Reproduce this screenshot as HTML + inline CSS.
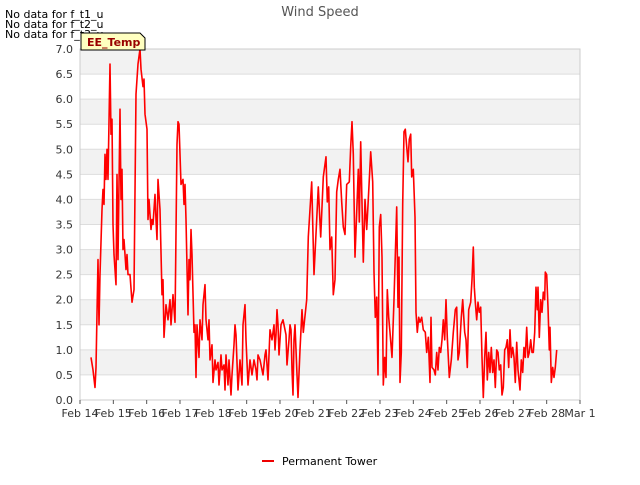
<!DOCTYPE html>
<html><head><meta charset="utf-8"><style>
body{margin:0;background:#fff;font-family:"Liberation Sans","DejaVu Sans",sans-serif;}
svg text{font-family:"DejaVu Sans","Liberation Sans",sans-serif;}
</style></head><body>
<svg id="chart" width="640" height="480" xmlns="http://www.w3.org/2000/svg">
<rect width="640" height="480" fill="#fff"/>
<g id="bands"></g><g id="grid"></g>
<rect x="80" y="49" width="500" height="351" fill="none" stroke="#ccc"/>
<g id="xaxis"></g>
<g id="yaxis"></g>
<g id="series"></g>
<text x="320" y="16" text-anchor="middle" font-size="13" fill="#555">Wind Speed</text>
<text x="5" y="18" font-size="11" fill="#000">No data for f_t1_u</text>
<text x="5" y="28" font-size="11" fill="#000">No data for f_t2_u</text>
<text x="5" y="38" font-size="11" fill="#000">No data for f_t3_u</text>
<g>
<path d="M81,33 H140 L145,38 V50 H81 Z" fill="#ffffc0" stroke="#000"/>
<text x="87" y="46" font-size="11" font-weight="bold" fill="#990000">EE_Temp</text>
</g>
<g>
<line x1="262" y1="461" x2="274" y2="461" stroke="#e00" stroke-width="2"/>
<text x="282" y="465" font-size="11" fill="#000">Permanent Tower</text>
</g>
</svg>
<script>
const xTickLabels=["Feb 14","Feb 15","Feb 16","Feb 17","Feb 18","Feb 19","Feb 20","Feb 21","Feb 22","Feb 23","Feb 24","Feb 25","Feb 26","Feb 27","Feb 28","Mar 1"];
const yTickLabels=["0.0","0.5","1.0","1.5","2.0","2.5","3.0","3.5","4.0","4.5","5.0","5.5","6.0","6.5","7.0"];
const days=[0.33,0.39,0.45,0.48,0.54,0.57,0.60,0.66,0.69,0.72,0.75,0.78,0.81,0.84,0.90,0.93,0.96,0.99,1.02,1.08,1.11,1.14,1.20,1.23,1.26,1.29,1.32,1.38,1.41,1.44,1.50,1.56,1.62,1.68,1.74,1.80,1.83,1.89,1.92,1.95,2.01,2.04,2.07,2.13,2.16,2.19,2.25,2.28,2.31,2.34,2.40,2.46,2.49,2.52,2.58,2.64,2.70,2.73,2.79,2.85,2.91,2.94,2.97,3.03,3.09,3.12,3.15,3.18,3.24,3.27,3.30,3.33,3.36,3.42,3.45,3.48,3.51,3.57,3.60,3.66,3.69,3.75,3.78,3.84,3.87,3.90,3.96,3.99,4.05,4.08,4.14,4.17,4.23,4.26,4.32,4.35,4.38,4.44,4.47,4.53,4.56,4.62,4.65,4.68,4.74,4.80,4.86,4.89,4.95,4.98,5.04,5.10,5.16,5.22,5.28,5.31,5.34,5.40,5.46,5.49,5.55,5.58,5.64,5.70,5.76,5.82,5.85,5.88,5.91,5.94,5.97,6.03,6.09,6.12,6.18,6.21,6.27,6.30,6.33,6.36,6.39,6.42,6.45,6.48,6.51,6.54,6.60,6.66,
6.70,6.80,6.85,6.95,7.02,7.10,7.15,7.22,7.30,7.38,7.42,7.46,7.50,7.55,7.60,7.65,7.70,7.75,7.80,7.85,7.90,7.95,8.00,8.08,8.12,8.16,8.20,8.25,8.30,8.35,8.38,8.42,8.45,8.50,8.55,8.60,8.65,8.72,8.78,8.82,8.86,8.90,8.94,8.98,9.02,9.06,9.10,9.14,9.18,9.22,9.26,9.30,9.36,9.42,9.50,9.54,9.57,9.60,9.64,9.68,9.72,9.76,9.80,9.84,9.88,9.92,9.95,10.00,10.05,10.08,10.12,10.16,10.20,10.25,10.30,10.36,10.40,10.45,10.50,10.53,10.56,10.62,10.66,10.70,10.74,10.78,10.82,10.86,10.90,10.94,10.98,11.02,11.08,11.14,11.20,11.26,11.30,11.34,11.38,11.44,11.48,11.54,11.58,11.62,11.66,11.72,11.76,11.80,11.83,11.86,11.90,11.94,11.98,12.02,12.06,12.10,12.14,12.18,12.22,12.26,12.30,12.34,12.38,12.42,12.46,12.50,12.54,12.58,12.62,12.66,12.70,12.74,12.78,12.82,12.86,12.90,12.94,12.98,13.02,13.06,13.10,13.14,13.20,13.24,13.28,13.32,13.36,13.40,13.44,13.48,13.52,13.56,13.60,13.64,13.68,13.72,13.74,13.78,13.82,13.86,13.90,13.94,13.96,14.00,14.04,14.08,14.10,14.14,14.18,14.22,14.26,14.30];
const speeds=[0.85,0.6,0.25,0.65,2.8,1.5,2.5,3.8,4.2,3.9,4.9,4.4,5.0,4.4,6.7,5.3,5.6,3.5,2.9,2.3,4.5,2.8,5.8,4.0,4.6,3.0,3.2,2.6,2.9,2.5,2.5,1.95,2.2,6.1,6.7,7.0,6.6,6.25,6.4,5.7,5.4,3.6,4.0,3.4,3.6,3.5,4.1,3.6,3.2,4.4,3.8,2.1,2.4,1.25,1.9,1.6,2.0,1.5,2.1,1.55,5.1,5.55,5.5,4.3,4.4,3.9,4.3,3.6,1.7,2.8,2.4,3.4,2.9,1.35,1.5,0.45,1.5,0.85,1.6,1.2,1.9,2.3,1.6,1.2,1.6,0.8,1.1,0.35,0.8,0.6,0.75,0.3,0.9,0.6,0.7,0.2,0.9,0.3,0.8,0.1,0.5,1.1,1.5,1.3,0.2,0.8,0.3,1.5,1.9,1.2,0.3,0.8,0.5,0.8,0.6,0.4,0.9,0.8,0.6,0.5,0.9,1.0,0.4,1.4,1.2,1.5,1.0,1.3,1.8,1.5,0.9,1.5,1.6,1.5,1.3,0.7,1.2,1.5,1.4,0.6,0.1,1.2,1.5,1.0,0.5,0.05,1.0,1.8,
1.35,2.0,3.25,4.35,2.5,3.6,4.25,3.25,4.45,4.85,3.95,4.25,3.0,3.25,2.1,2.4,4.15,4.4,4.6,3.95,3.45,3.3,4.3,4.35,5.05,5.55,4.9,2.85,3.75,4.6,3.55,5.15,4.2,2.75,4.0,3.4,4.0,4.95,4.35,2.55,1.65,2.05,0.5,3.45,3.7,2.85,0.3,0.85,0.45,2.2,1.65,1.35,0.85,2.0,3.85,1.85,2.85,0.35,0.95,3.9,5.35,5.4,5.05,4.75,5.2,5.3,4.45,4.6,3.65,1.75,1.35,1.65,1.55,1.65,1.4,1.35,0.95,1.25,0.35,1.65,0.65,0.6,0.5,0.95,0.6,1.05,0.95,1.2,1.6,1.2,2.0,1.25,0.45,0.8,1.35,1.8,1.85,0.8,0.95,1.65,2.0,1.35,1.2,0.65,1.8,1.95,2.4,3.05,2.25,1.95,1.6,1.95,1.75,1.85,0.85,0.05,0.85,1.35,0.4,0.95,0.55,1.05,0.55,0.8,0.25,1.0,0.95,0.6,0.7,0.1,0.25,1.0,1.05,1.2,0.65,1.4,0.85,1.05,0.85,0.35,1.15,0.6,0.2,0.8,0.55,1.05,0.85,1.45,0.85,0.95,1.2,0.95,0.95,1.35,2.25,1.8,2.25,1.25,2.0,1.75,2.15,2.0,2.55,2.5,1.85,1.0,1.45,0.35,0.65,0.45,0.65,1.0];
const NS="http://www.w3.org/2000/svg";
const X0=80,X1=580,Y0=400,Y1=49;
const xScale=d=>X0+(X1-X0)*d/15;
const yScale=v=>Y0-(Y0-Y1)*v/7;
const bands=document.getElementById('bands'),grid=document.getElementById('grid');
const xa=document.getElementById('xaxis'),ya=document.getElementById('yaxis');
for(let i=0;i<yTickLabels.length-1;i++){
  if(i%2===1){const r=document.createElementNS(NS,'rect');
    r.setAttribute('x',X0);r.setAttribute('y',yScale(i+1)/1===0?0:yScale((i+1)*0.5));
    r.setAttribute('width',X1-X0);r.setAttribute('height',yScale(i*0.5)-yScale((i+1)*0.5));
    r.setAttribute('fill','#f2f2f2');
    
    
    bands.appendChild(r);}
}
yTickLabels.forEach((lab,i)=>{
  const v=parseFloat(lab),y=yScale(v);
  const l=document.createElementNS(NS,'line');
  l.setAttribute('x1',X0);l.setAttribute('x2',X1);l.setAttribute('y1',y);l.setAttribute('y2',y);
  l.setAttribute('stroke','#ddd');
  
  
  grid.appendChild(l);
  const t=document.createElementNS(NS,'text');
  t.setAttribute('x',73);t.setAttribute('y',y+4);t.setAttribute('text-anchor','end');
  t.setAttribute('font-size','11');t.setAttribute('fill','#333');t.textContent=lab;
  
  
  ya.appendChild(t);
});
xTickLabels.forEach((lab,i)=>{
  const x=xScale(i);
  const l=document.createElementNS(NS,'line');
  l.setAttribute('x1',x);l.setAttribute('x2',x);l.setAttribute('y1',Y0);l.setAttribute('y2',Y0+4);
  l.setAttribute('stroke','#555');
  
  
  xa.appendChild(l);
  const t=document.createElementNS(NS,'text');
  t.setAttribute('x',x);t.setAttribute('y',417);t.setAttribute('text-anchor','middle');
  t.setAttribute('font-size','11');t.setAttribute('fill','#333');t.textContent=lab;
  
  
  xa.appendChild(t);
});
const n=Math.min(days.length,speeds.length);
let d='';
for(let i=0;i<n;i++){d+=(i?'L':'M')+xScale(days[i]).toFixed(1)+','+yScale(speeds[i]).toFixed(1);}
const p=document.createElementNS(NS,'path');
p.setAttribute('d',d);p.setAttribute('fill','none');p.setAttribute('stroke','#f00');
p.setAttribute('stroke-width','1.6');p.setAttribute('stroke-linejoin','round');


document.getElementById('series').appendChild(p);
</script>
</body></html>
